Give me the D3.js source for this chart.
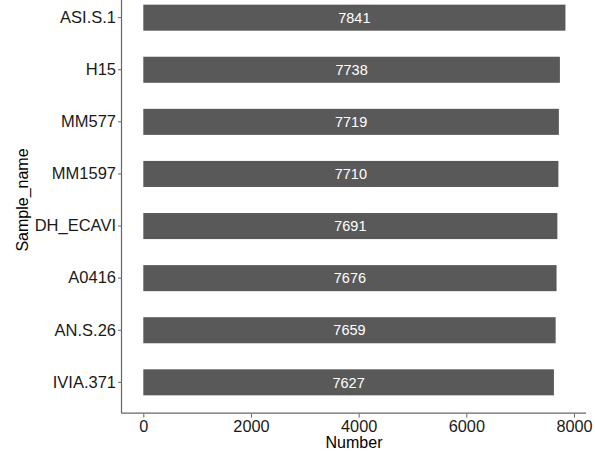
<!DOCTYPE html>
<html><head><meta charset="utf-8">
<script src="https://cdn.jsdelivr.net/npm/d3@7"></script>
<style>body{margin:0;background:#fff}svg{display:block}text{font-family:"Liberation Sans",Arial,sans-serif}</style>
</head><body><svg id="c" width="595" height="451"></svg>
<script>
const categories = ["ASI.S.1","H15","MM577","MM1597","DH_ECAVI","A0416","AN.S.26","IVIA.371"];
const values = [7841,7738,7719,7710,7691,7676,7659,7627];
const xTicks = [0,2000,4000,6000,8000];

(function(){
const svg = d3.select("#c");
const pL = 122, pR = 586, pT = -13.6, pB = 413.6;
const x = d3.scaleLinear().domain([0,8000]).range([143.3, 574]);
const y = d3.scaleBand().domain(categories).range([pT,pB]).paddingInner(0.5).paddingOuter(0.35);

svg.selectAll("rect.bar").data(categories).enter().append("rect")
  .attr("x", x(0)).attr("y", d=>y(d))
  .attr("width", (d,i)=>x(values[i])-x(0)).attr("height", y.bandwidth())
  .attr("fill","#595959");

svg.selectAll("text.val").data(categories).enter().append("text")
  .attr("x",(d,i)=>x(values[i]/2)).attr("y",d=>y(d)+y.bandwidth()/2)
  .attr("dy","0.36em").attr("text-anchor","middle").attr("fill","#fff")
  .attr("font-size","14.5px").text((d,i)=>values[i]);

const xa = svg.append("g").attr("transform",`translate(0,${pB})`)
  .call(d3.axisBottom(x).tickValues(xTicks).tickSize(4).tickPadding(3).tickFormat(d3.format("d")));
xa.select(".domain").remove();
xa.selectAll("line").attr("stroke","#666");
xa.selectAll("text").attr("font-size","16.3px").attr("fill","#1a1a1a").attr("font-family",null);
svg.append("line").attr("x1",pL).attr("x2",pR).attr("y1",pB-0.5).attr("y2",pB-0.5).attr("stroke","#666").attr("stroke-width",1.2);

const ya = svg.append("g").attr("transform",`translate(${pL},0)`)
  .call(d3.axisLeft(y).tickSize(4).tickPadding(2));
ya.select(".domain").remove();
ya.selectAll("line").attr("stroke","#666");
ya.selectAll("text").attr("font-size","16.5px").attr("fill","#1a1a1a").attr("font-family",null);
svg.append("line").attr("x1",pL-0.5).attr("x2",pL-0.5).attr("y1",0).attr("y2",pB).attr("stroke","#666").attr("stroke-width",1.2);

svg.append("text").attr("x",(pL+pR)/2).attr("y",448).attr("text-anchor","middle")
  .attr("font-size","16px").attr("fill","#000").text("Number");
svg.append("text").attr("transform",`translate(28,${(pT+pB)/2}) rotate(-90)`).attr("text-anchor","middle")
  .attr("font-size","16px").attr("fill","#000").text("Sample_name");
})();
</script></body></html>
